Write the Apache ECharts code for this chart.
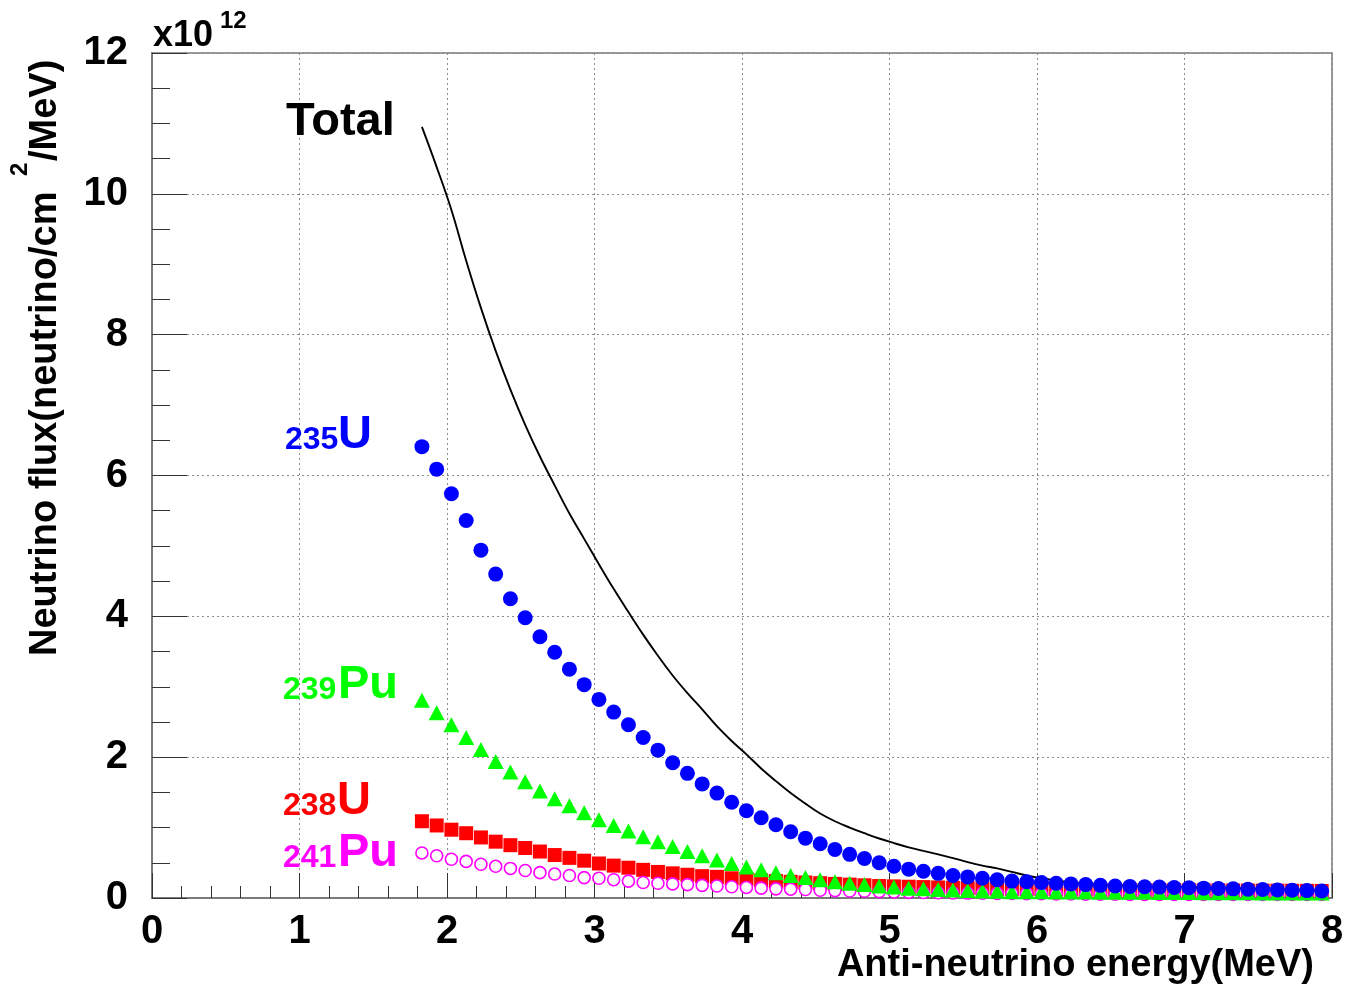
<!DOCTYPE html>
<html>
<head>
<meta charset="utf-8">
<script src="https://cdn.jsdelivr.net/npm/echarts@6/dist/echarts.min.js"></script>
<style>
  html, body { margin: 0; padding: 0; background: #fff; }
  #chart { width: 1349px; height: 989px; }
</style>
</head>
<body>
<div id="chart"></div>
<script>
// Anti-neutrino energy (MeV) of each plotted point
const energies = [
  1.83, 1.93, 2.03, 2.13, 2.23, 2.33, 2.43, 2.53, 2.63, 2.73,
  2.83, 2.93, 3.03, 3.13, 3.23, 3.33, 3.43, 3.53, 3.63, 3.73,
  3.83, 3.93, 4.03, 4.13, 4.23, 4.33, 4.43, 4.53, 4.63, 4.73,
  4.83, 4.93, 5.03, 5.13, 5.23, 5.33, 5.43, 5.53, 5.63, 5.73,
  5.83, 5.93, 6.03, 6.13, 6.23, 6.33, 6.43, 6.53, 6.63, 6.73,
  6.83, 6.93, 7.03, 7.13, 7.23, 7.33, 7.43, 7.53, 7.63, 7.73,
  7.83, 7.93
];
// Flux in units of 1e12 neutrino/cm^2/MeV
const totalFlux = [
  10.95, 10.38, 9.77, 9.05, 8.38, 7.77, 7.22, 6.72, 6.27, 5.86,
  5.46, 5.10, 4.74, 4.39, 4.06, 3.74, 3.44, 3.16, 2.91, 2.68,
  2.44, 2.23, 2.04, 1.84, 1.66, 1.49, 1.34, 1.20, 1.09, 1.00,
  0.92, 0.845, 0.78, 0.72, 0.67, 0.62, 0.567, 0.51, 0.46, 0.42,
  0.37, 0.32, 0.28, 0.25, 0.22, 0.20, 0.19, 0.18, 0.175, 0.17,
  0.165, 0.16, 0.155, 0.15, 0.145, 0.14, 0.135, 0.13, 0.125, 0.12,
  0.115, 0.11
];
const u235Flux = [
  6.41, 6.09, 5.74, 5.36, 4.94, 4.60, 4.25, 3.98, 3.71, 3.49,
  3.25, 3.03, 2.82, 2.64, 2.46, 2.28, 2.10, 1.92, 1.77, 1.62,
  1.49, 1.36, 1.24, 1.14, 1.04, 0.94, 0.85, 0.77, 0.69, 0.62,
  0.56, 0.50, 0.45, 0.41, 0.38, 0.35, 0.32, 0.30, 0.28, 0.26,
  0.24, 0.23, 0.22, 0.21, 0.20, 0.19, 0.18, 0.17, 0.165, 0.16,
  0.155, 0.15, 0.145, 0.14, 0.135, 0.13, 0.125, 0.12, 0.115, 0.11,
  0.105, 0.10
];
const pu239Flux = [
  2.81, 2.63, 2.46, 2.28, 2.11, 1.94, 1.79, 1.65, 1.52, 1.41,
  1.31, 1.21, 1.11, 1.03, 0.95, 0.87, 0.80, 0.73, 0.66, 0.60,
  0.54, 0.49, 0.44, 0.40, 0.36, 0.32, 0.29, 0.26, 0.23, 0.21,
  0.19, 0.17, 0.155, 0.14, 0.13, 0.12, 0.115, 0.105, 0.10, 0.095,
  0.09, 0.09, 0.088, 0.086, 0.085, 0.084, 0.083, 0.082, 0.081, 0.08,
  0.079, 0.078, 0.077, 0.076, 0.075, 0.074, 0.073, 0.072, 0.071, 0.07,
  0.07, 0.07
];
const u238Flux = [
  1.09, 1.03, 0.97, 0.92, 0.86, 0.80, 0.75, 0.71, 0.66, 0.61,
  0.57, 0.53, 0.49, 0.46, 0.43, 0.40, 0.37, 0.35, 0.33, 0.31,
  0.30, 0.28, 0.27, 0.25, 0.24, 0.23, 0.22, 0.21, 0.20, 0.19,
  0.18, 0.17, 0.165, 0.16, 0.155, 0.15, 0.145, 0.14, 0.135, 0.13,
  0.13, 0.125, 0.125, 0.12, 0.12, 0.118, 0.116, 0.115, 0.114, 0.113,
  0.112, 0.111, 0.11, 0.109, 0.108, 0.107, 0.106, 0.105, 0.104, 0.103,
  0.102, 0.10
];
const pu241Flux = [
  0.64, 0.60, 0.55, 0.52, 0.48, 0.45, 0.42, 0.39, 0.36, 0.34,
  0.32, 0.29, 0.28, 0.26, 0.24, 0.22, 0.21, 0.20, 0.19, 0.18,
  0.17, 0.16, 0.15, 0.14, 0.13, 0.125, 0.12, 0.11, 0.105, 0.10,
  0.095, 0.09, 0.085, 0.08, 0.078, 0.075, 0.072, 0.07, 0.068, 0.066,
  0.064, 0.062, 0.06, 0.058, 0.056, 0.055, 0.054, 0.053, 0.052, 0.051,
  0.05, 0.05, 0.05, 0.05, 0.05, 0.05, 0.05, 0.05, 0.05, 0.05,
  0.05, 0.05
];
const xTickLabels = ['0', '1', '2', '3', '4', '5', '6', '7', '8'];
const yTickLabels = ['0', '2', '4', '6', '8', '10', '12'];

const FONT = '"Liberation Sans", Arial, Helvetica, sans-serif';
const pair = arr => energies.map((e, i) => [e, arr[i]]);

const chart = echarts.init(document.getElementById('chart'), null, { renderer: 'canvas' });

const gridLine = { show: true, lineStyle: { color: '#8c8c8c', width: 1, type: [2, 3] } };

function txt(text, x, y, size, color, extra) {
  return Object.assign({
    type: 'text', x: x, y: y, z: 100,
    style: {
      text: text, fill: color,
      font: 'bold ' + size + 'px ' + FONT,
      textAlign: 'left', textVerticalAlign: 'middle'
    }
  }, extra || {});
}

const option = {
  backgroundColor: '#ffffff',
  animation: false,
  grid: {
    left: 152, right: 17, top: 53, bottom: 91,
    show: true, borderColor: '#7a7a7a', borderWidth: 1.5, backgroundColor: 'transparent'
  },
  xAxis: {
    type: 'value', min: 0, max: 8, interval: 1,
    axisLine: { show: true, onZero: false, lineStyle: { color: '#7a7a7a', width: 2 } },
    axisTick: { show: true, inside: true, length: 25, lineStyle: { color: '#333', width: 1 } },
    minorTick: { show: true, splitNumber: 5, length: 12, lineStyle: { color: '#333', width: 1 } },
    splitLine: gridLine,
    axisLabel: {
      margin: 14, color: '#000', fontFamily: FONT, fontWeight: 'bold', fontSize: 40,
      formatter: v => xTickLabels[Math.round(v)]
    }
  },
  yAxis: {
    type: 'value', min: 0, max: 12, interval: 2,
    axisLine: { show: true, lineStyle: { color: '#7a7a7a', width: 2 } },
    axisTick: { show: true, inside: true, length: 35, lineStyle: { color: '#333', width: 1 } },
    minorTick: { show: true, splitNumber: 4, length: 18, lineStyle: { color: '#333', width: 1 } },
    splitLine: gridLine,
    axisLabel: {
      margin: 24, color: '#000', fontFamily: FONT, fontWeight: 'bold', fontSize: 40,
      formatter: v => yTickLabels[Math.round(v / 2)]
    }
  },
  series: [
    {
      name: 'Total', type: 'line', data: pair(totalFlux), showSymbol: false, symbol: 'none',
      smooth: 0.4, lineStyle: { color: '#000', width: 1.9 }, z: 1
    },
    {
      name: '238U', type: 'scatter', data: pair(u238Flux), symbol: 'rect', symbolSize: 14,
      itemStyle: { color: '#ff0000', opacity: 1 }, z: 2
    },
    {
      name: '241Pu', type: 'scatter', data: pair(pu241Flux), symbol: 'circle', symbolSize: 12,
      itemStyle: { color: '#ffffff', borderColor: '#ff00ff', borderWidth: 1.6, opacity: 1 }, z: 3
    },
    {
      name: '239Pu', type: 'scatter', data: pair(pu239Flux), symbol: 'triangle', symbolSize: [16, 15],
      itemStyle: { color: '#00ff00', opacity: 1 }, z: 4
    },
    {
      name: '235U', type: 'scatter', data: pair(u235Flux), symbol: 'circle', symbolSize: 15,
      itemStyle: { color: '#0000ff', opacity: 1 }, z: 5
    }
  ],
  graphic: [
    txt('x10', 153, 36, 36, '#000'),
    txt('12', 220, 21, 24, '#000'),
    txt('Total', 286, 122, 47, '#000'),
    txt('235', 285, 440, 32, '#0000ff'),
    txt('U', 338, 435, 47, '#0000ff'),
    txt('239', 283, 690, 32, '#00ff00'),
    txt('Pu', 338, 685, 47, '#00ff00'),
    txt('238', 283, 806, 32, '#ff0000'),
    txt('U', 337, 801, 47, '#ff0000'),
    txt('241', 283, 858, 32, '#ff00ff'),
    txt('Pu', 338, 853, 47, '#ff00ff'),
    txt('Anti-neutrino energy(MeV)', 1314, 966, 38, '#000', {
      style: { text: 'Anti-neutrino energy(MeV)', fill: '#000', font: 'bold 38px ' + FONT,
               textAlign: 'right', textVerticalAlign: 'middle' }
    }),
    txt('Neutrino flux(neutrino/cm', 46, 656, 38, '#000', { rotation: Math.PI / 2 }),
    txt('2', 20, 176, 24, '#000', { rotation: Math.PI / 2 }),
    txt('/MeV)', 46, 161, 38, '#000', { rotation: Math.PI / 2 })
  ]
};

chart.setOption(option);
</script>
</body>
</html>
